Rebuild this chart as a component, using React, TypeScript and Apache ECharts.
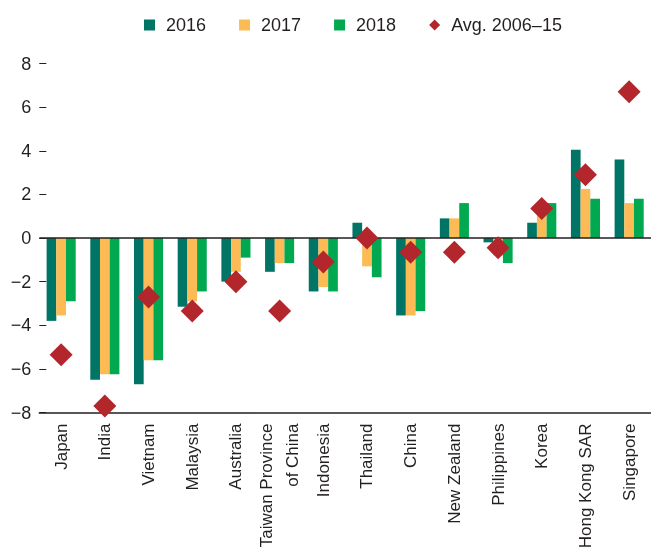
import React, { useEffect, useRef } from "react";
import * as echarts from "echarts";

const categories = [
  "Japan", "India", "Vietnam", "Malaysia", "Australia", "Taiwan Province\nof China",
  "Indonesia", "Thailand", "China", "New Zealand", "Philippines", "Korea", "Hong Kong SAR", "Singapore",
];
const values2016 = [-3.8, -6.5, -6.7, -3.15, -2.0, -1.55, -2.45, 0.7, -3.55, 0.9, -0.2, 0.7, 4.05, 3.6];
const values2017 = [-3.55, -6.25, -5.6, -2.9, -1.55, -1.15, -2.25, -1.3, -3.55, 0.9, -0.8, 1.1, 2.25, 1.6];
const values2018 = [-2.9, -6.25, -5.6, -2.45, -0.9, -1.15, -2.45, -1.8, -3.35, 1.6, -1.15, 1.6, 1.8, 1.8];
const valuesAvg = [-5.35, -7.7, -2.7, -3.35, -2.0, -3.35, -1.1, 0.0, -0.65, -0.65, -0.45, 1.35, 2.9, 6.7];

const FONT = "'Liberation Sans', Arial, Helvetica, sans-serif";
const TEXT = "#231F20";

export default function App() {
  const ref = useRef<HTMLDivElement>(null);
  useEffect(() => {
    if (!ref.current) return;
    const chart = echarts.init(ref.current, null, { renderer: "svg" });
    const bar = (name: string, data: number[], color: string, extra: any = {}) => ({
      name,
      type: "bar",
      data,
      barWidth: 9.7,
      barGap: "0%",
      itemStyle: { color },
      ...extra,
    });
    chart.setOption({
      animation: false,
      textStyle: { fontFamily: FONT, color: TEXT },
      legend: {
        left: 139,
        top: 9,
        itemWidth: 11,
        itemHeight: 11,
        itemGap: 33,
        textStyle: { fontSize: 18, lineHeight: 22, color: TEXT, fontFamily: FONT, padding: [0, 0, 0, 6] },
        data: [
          { name: "2016", icon: "rect" },
          { name: "2017", icon: "rect" },
          { name: "2018", icon: "rect" },
          { name: "Avg. 2006–15", icon: "diamond", itemStyle: { color: "#B2262C", opacity: 1 } },
        ],
      },
      grid: { left: 39.3, top: 63.5, width: 619, height: 349, containLabel: false },
      xAxis: {
        type: "category",
        data: categories,
        axisLine: { onZero: false, lineStyle: { color: TEXT, width: 1.5 } },
        axisTick: { inside: true, length: 8, lineStyle: { color: TEXT, width: 1.5 } },
        axisLabel: {
          rotate: 90,
          fontSize: 17,
          color: TEXT,
          fontFamily: FONT,
          margin: 11,
          lineHeight: 26,
          interval: 0,
        },
      },
      yAxis: {
        type: "value",
        min: -8,
        max: 8,
        interval: 2,
        axisLine: { show: false },
        axisTick: { show: true, inside: true, length: 7, lineStyle: { color: TEXT, width: 1 } },
        splitLine: { show: false },
        axisLabel: {
          fontSize: 18,
          color: TEXT,
          fontFamily: FONT,
          margin: 8,
          formatter: (v: number) => String(v).replace("-", "\u2212"),
        },
      },
      series: [
        bar("2016", values2016, "#007565", {
          markLine: {
            silent: true,
            symbol: "none",
            label: { show: false },
            lineStyle: { color: TEXT, width: 1.5, type: "solid" },
            data: [{ yAxis: 0 }],
            z: 10,
          },
        }),
        bar("2017", values2017, "#FDBB55"),
        bar("2018", values2018, "#00A84F"),
        {
          name: "Avg. 2006–15",
          type: "scatter",
          data: valuesAvg,
          symbol: "diamond",
          symbolSize: 23,
          itemStyle: { color: "#B2262C", opacity: 1 },
          z: 20,
        },
      ],
    });
    return () => chart.dispose();
  }, []);
  return <div ref={ref} style={{ position: "fixed", left: 0, top: 0, width: 651, height: 552 }} />;
}
